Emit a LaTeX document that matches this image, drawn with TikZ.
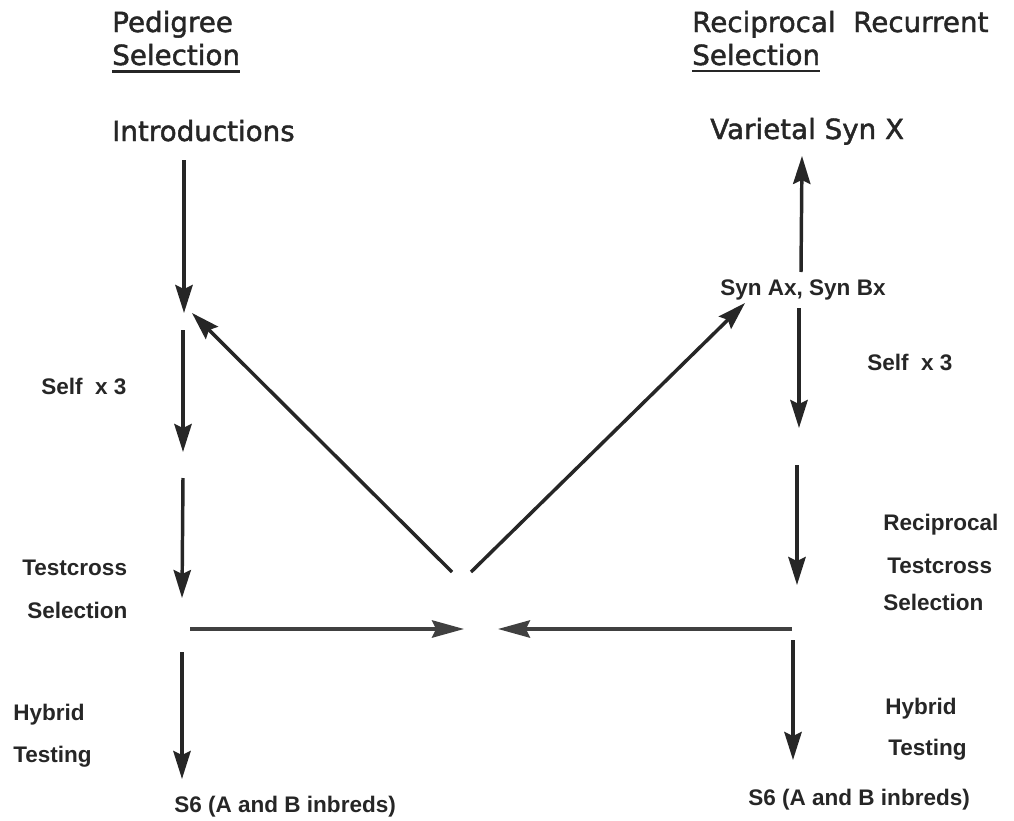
\documentclass[tikz,border=0pt]{standalone}
\usepackage{fontspec}
\setmainfont{DejaVu Sans}
\newfontfamily\headfont{DejaVu Sans}[RawFeature={embolden=1.6}]
\newfontfamily\labfont{Liberation Sans}
\usetikzlibrary{arrows.meta}
\begin{document}
\begin{tikzpicture}[x=0.75pt,y=-0.75pt,
  head/.style={inner sep=0pt,anchor=base west,font=\headfont\fontsize{20.8}{24}\selectfont,text=black!85},
  lab/.style={inner sep=0pt,anchor=base west,font=\labfont\bfseries\fontsize{16.9}{20}\selectfont,text=black!85},
  arr/.style={draw=black!85,line width=2.6pt,-{Stealth[length=21pt,width=13pt,inset=3pt]}},
  harr/.style={draw=black!75,line width=2.4pt,-{Stealth[length=24pt,width=13pt,inset=3pt]}},
  uline/.style={draw=black!85,line width=1.9pt}]
\useasboundingbox (0,0) rectangle (1014,821);
% headers
\node[head] (ped) at (112,32) {Pedigree};
\node[head] (selL) at (112,65) {Selection};
\node[head] (intro) at (112,141) {Introductions};
\node[head] (rrs) at (692,32) {Reciprocal\ \ Recurrent};
\node[head] (selR) at (692,65) {Selection};
\node[head] (var) at (710,139) {Varietal\ Syn\ X};
\draw[uline] ([yshift=-4.8pt]selL.base west) -- ([yshift=-4.8pt]selL.base east);
\draw[uline] ([yshift=-4.5pt]selR.base west) -- ([yshift=-4.5pt]selR.base east);
% small labels
\node[lab] (selfL) at (41,394) {Self\ \ x 3};
\node[lab] (tcL) at (22,575) {Testcross};
\node[lab] (tsL) at (27,618) {Selection};
\node[lab] (hyL) at (13,720) {Hybrid};
\node[lab] (teL) at (13,762) {Testing};
\node[lab] (s6L) at (174,812) {S6 (A and B inbreds)};
\node[lab] (syn) at (720,295) {Syn Ax, Syn Bx};
\node[lab] (selfR) at (867,370) {Self\ \ x 3};
\node[lab] (rcR) at (883,530) {Reciprocal};
\node[lab] (tcR) at (887,573) {Testcross};
\node[lab] (tsR) at (883,610) {Selection};
\node[lab] (hyR) at (885,714) {Hybrid};
\node[lab] (teR) at (888,755) {Testing};
\node[lab] (s6R) at (748,805) {S6 (A and B inbreds)};
% coordinates
\coordinate (l1a) at (184,160);
\coordinate (l1b) at (184,313);
\coordinate (l2a) at (183,330);
\coordinate (l2b) at (183,452);
\coordinate (l3a) at (183,478);
\coordinate (l3b) at (182,598);
\coordinate (l4a) at (182,652);
\coordinate (l4b) at (182,779);
\coordinate (hLa) at (190,629);
\coordinate (hLb) at (464,629);
\coordinate (hRa) at (792,629);
\coordinate (hRb) at (498,629);
\coordinate (dLa) at (452,572);
\coordinate (dLb) at (192,313);
\coordinate (dRa) at (471,572);
\coordinate (dRb) at (745,303);
\coordinate (r1a) at (801,272);
\coordinate (r1b) at (802,156);
\coordinate (r2a) at (799,308);
\coordinate (r2b) at (799,428);
\coordinate (r3a) at (797,465);
\coordinate (r3b) at (797,585);
\coordinate (r4a) at (793,640);
\coordinate (r4b) at (793,760);
% arrows
\draw[arr] (l1a) -- (l1b);
\draw[arr] (l2a) -- (l2b);
\draw[arr] (l3a) -- (l3b);
\draw[arr] (l4a) -- (l4b);
\draw[arr] (dLa) -- (dLb);
\draw[arr] (dRa) -- (dRb);
\draw[arr] (r1a) -- (r1b);
\draw[arr] (r2a) -- (r2b);
\draw[arr] (r3a) -- (r3b);
\draw[arr] (r4a) -- (r4b);
\draw[harr] (hLa) -- (hLb);
\draw[harr] (hRa) -- (hRb);
\end{tikzpicture}
\end{document}
